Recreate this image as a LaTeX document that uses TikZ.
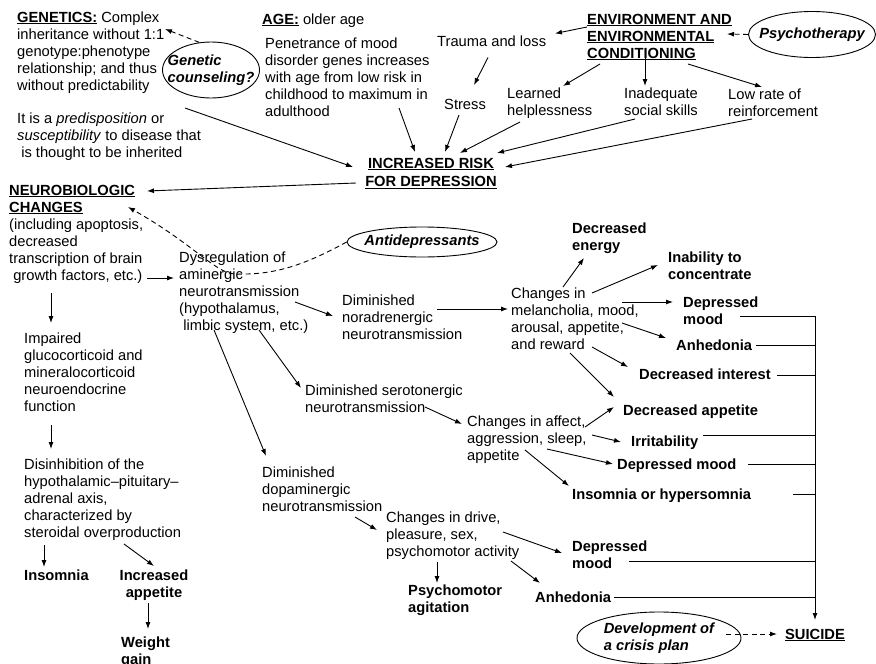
\documentclass[tikz,border=0pt]{standalone}
\usepackage{fontspec}
\setmainfont{Liberation Sans}
\usepackage{tikz}
\usetikzlibrary{arrows.meta, shapes.geometric, calc}
\newcommand{\figfont}{\fontsize{14.7}{17}\selectfont}
\newsavebox{\ulbox}
\newcommand{\ulb}[1]{\sbox{\ulbox}{\textbf{#1}}\rlap{\rule[-2.4pt]{\wd\ulbox}{1.3pt}}\usebox{\ulbox}}
% top-aligned line stacks, so that base = first line
\newcommand{\lft}[1]{\begin{tabular}[t]{@{}l@{}}#1\end{tabular}}
\newcommand{\ctr}[1]{\begin{tabular}[t]{@{}c@{}}#1\end{tabular}}
\tikzset{
  arr/.style={-{Latex[length=7pt,width=5pt]}, line width=0.9pt},
  darr/.style={arr, dash pattern=on 5pt off 3.5pt},
  txt/.style={anchor=base west, inner sep=0pt},
  bld/.style={txt, font=\figfont\bfseries},
  oval/.style={ellipse, draw, line width=0.9pt, inner sep=0pt},
  ovaltxt/.style={align=left, inner sep=0pt, font=\figfont\bfseries\itshape}
}

\begin{document}
\begin{tikzpicture}[x=1pt, y=-1pt, font=\figfont]
\useasboundingbox (0,0) rectangle (876,664);
% ===== top row: what raises the risk =====
\node[txt] (gen) at (17,22) {\lft{\ulb{GENETICS:} Complex\\inheritance without 1:1\\genotype:phenotype\\relationship; and thus\\without predictability}};
\node[txt] (pred) at (17,123) {\lft{It is a \textit{predisposition} or\\\textit{susceptibility} to disease that\\\ is thought to be inherited}};
\node[oval, minimum width=97pt, minimum height=56pt] (counsel) at (211,70) {};
\node[ovaltxt] at (counsel.center) {Genetic\\counseling?};
\node[txt] (age) at (262,24) {\ulb{AGE:} older age};
\node[txt] (pen) at (265,48) {\lft{Penetrance of mood\\disorder genes increases\\with age from low risk in\\childhood to maximum in\\adulthood}};
\node[txt] (trauma) at (437,46.5) {Trauma and loss};
\node[txt] (stress) at (444,109) {Stress};
\node[txt] (env) at (587,24) {\lft{\ulb{ENVIRONMENT AND}\\\ulb{ENVIRONMENTAL}\\\ulb{CONDITIONING}}};
\node[oval, minimum width=127pt, minimum height=46pt] (psycho) at (812,34.5) {};
\node[ovaltxt] at (psycho.center) {Psychotherapy};
\node[txt] (learned) at (507,98) {\lft{Learned\\helplessness}};
\node[txt] (inad) at (624,98) {\lft{Inadequate\\social skills}};
\node[txt] (lowrate) at (728,99) {\lft{Low rate of\\reinforcement}};
\node[anchor=base, inner sep=0pt] (risk) at (431,168) {\ctr{\ulb{INCREASED RISK}\\[1.5pt]\ulb{FOR DEPRESSION}}};
% ===== middle: neurobiology and the three transmitter systems =====
\node[txt] (neuro) at (9,195) {\lft{\ulb{NEUROBIOLOGIC}\\\ulb{CHANGES}\\(including apoptosis,\\decreased\\transcription of brain\\\ growth factors, etc.)}};
\node[txt] (dysreg) at (179,262) {\lft{Dysregulation of\\aminergic\\neurotransmission\\(hypothalamus,\\\ limbic system, etc.)}};
\node[oval, minimum width=150pt, minimum height=30pt] (antidep) at (422,242) {};
\node[ovaltxt] at (antidep.center) {Antidepressants};
\node[txt] (norad) at (342,305) {\lft{Diminished\\noradrenergic\\neurotransmission}};
\node[txt] (sero) at (305,395) {\lft{Diminished serotonergic\\neurotransmission}};
\node[txt] (dopa) at (262,477) {\lft{Diminished\\dopaminergic\\neurotransmission}};
\node[txt] (chgA) at (511,298) {\lft{Changes in\\melancholia, mood,\\arousal, appetite,\\and reward}};
\node[txt] (chgB) at (467,426) {\lft{Changes in affect,\\aggression, sleep,\\appetite}};
\node[txt] (chgC) at (386,522) {\lft{Changes in drive,\\pleasure, sex,\\psychomotor activity}};
% ===== symptoms =====
\node[bld] (energy) at (572,233) {\lft{Decreased\\energy}};
\node[bld] (inab) at (668,262) {\lft{Inability to\\concentrate}};
\node[bld] (dmoodA) at (683,307) {\lft{Depressed\\mood}};
\node[bld] (anhedA) at (676,350) {Anhedonia};
\node[bld] (dint) at (639,379) {Decreased interest};
\node[bld] (dapp) at (623,415) {Decreased appetite};
\node[bld] (irrit) at (631,446) {Irritability};
\node[bld] (dmoodB) at (617,469) {Depressed mood};
\node[bld] (insomB) at (572,499) {Insomnia or hypersomnia};
\node[bld] (dmoodC) at (572,551) {\lft{Depressed\\mood}};
\node[bld] (anhedB) at (535,602) {Anhedonia};
\node[bld] (agit) at (408,595) {\lft{Psychomotor\\agitation}};
% ===== left column: HPA axis =====
\node[txt] (impaired) at (24,343) {\lft{Impaired\\glucocorticoid and\\mineralocorticoid\\neuroendocrine\\function}};
\node[txt] (disinh) at (24,469) {\lft{Disinhibition of the\\hypothalamic--pituitary--\\adrenal axis,\\characterized by\\steroidal overproduction}};
\node[bld] (insomA) at (24,580) {Insomnia};
\node[bld, anchor=base] (incapp) at (154,580) {\ctr{Increased\\appetite}};
\node[bld] (weight) at (121,647) {\lft{Weight\\gain}};
% ===== bottom right: outcome =====
\node[anchor=base, inner sep=0pt] (suicide) at (815,639) {\ulb{SUICIDE}};
\node[oval, minimum width=164pt, minimum height=52pt] (crisis) at (659,638) {};
\node[ovaltxt] at (crisis.center) {Development of\\a crisis plan};
% solid arrows: start node/offset/end node/offset
\foreach \p/\px/\py/\q/\qx/\qy in {
  pred.base west/168/-15/risk.base/-78/-1,
  pen.base west/134/60/risk.base/-16/-16,
  stress.base west/15/6/risk.base/14/-16,
  learned.base west/13/24/risk.base/29/-15,
  inad.base west/11/21/risk.base/66/-15,
  lowrate.base west/24/20/risk.base/74/-1,
  trauma.base west/51/11/stress.base west/30/-24,
  env.base west/0/3/trauma.base west/118/-13,
  env.base west/13/40/learned.base west/56/-12,
  env.base west/58/33/inad.base west/21/-12,
  env.base west/101/40/lowrate.base west/34/-12,
  risk.base/-75/15/neuro.base west/138/-4,
  neuro.base west/138/83/dysreg.base west/-5/16,
  dysreg.base west/116/40/norad.base west/-9/11,
  norad.base west/95/4/chgA.base west/-3/11,
  dysreg.base west/80/68/sero.base west/-4/-7,
  dysreg.base west/35/68/dopa.base west/4/-21,
  sero.base west/120/12/chgB.base west/-5/-2,
  dopa.base west/93/40/chgC.base west/-9/8,
  chgA.base west/52/-11/energy.base west/12/25,
  chgA.base west/81/-5/inab.base west/-10/3,
  chgA.base west/111/4/dmoodA.base west/-10/-5,
  chgA.base west/111/25/anhedA.base west/-10/-12,
  chgA.base west/81/49/dint.base west/-11/-12,
  chgA.base west/59/55/dapp.base west/-9/-18,
  chgB.base west/118/1/dapp.base west/-9/-8,
  chgB.base west/125/9/irrit.base west/-10/-4,
  chgB.base west/80/23/dmoodB.base west/-4/-5,
  chgB.base west/58/24/insomB.base west/-3/-13,
  chgC.base west/117/10/dmoodC.base west/-10/2,
  chgC.base west/125/39/anhedB.base west/5/-19,
  chgC.base west/51/40/agit.base west/29/-12,
  neuro.base west/42/98/impaired.base west/27/-20,
  impaired.base west/27/82/disinh.base west/27/-20,
  disinh.base west/20/76/insomA.base west/20/-13,
  disinh.base west/100/75/incapp.base/0/-14,
  incapp.base/-6/23/weight.base west/27/-18}
  \draw[arr] ($(\p)+(\px,\py)$) -- ($(\q)+(\qx,\qy)$);
% dashed arrows from the treatments
\draw[darr] (counsel.113) -- ($(gen.base west)+(148,7)$);
\draw[darr] (psycho.west) -- ($(env.base west)+(140,10)$);
\draw[darr] (antidep.west) .. controls +(-47,26) and +(35,1) .. ($(dysreg.base west)+(56,12)$)
  .. controls +(-20,-1) and +(67,38) .. ($(neuro.base west)+(119,12)$);
\draw[darr] ($(crisis.center)+(67,-4)$) -- ($(suicide.base)+(-38,-5)$);
% symptoms gathered on one line down to suicide
\coordinate (spine) at (815,316);
\foreach \nm/\dx/\dy in {dmoodA/57/9, anhedA/80/-5, dint/138/-4, irrit/72/-11, dmoodB/131/-5, insomB/221/-5, dmoodC/57/10, anhedB/79/-5}
  \draw[line width=0.9pt] ($(\nm.base west)+(\dx,\dy)$) coordinate (h) -- (h -| spine);
\draw[arr] (spine) -- ($(suicide.base)+(0,-19)$);
\end{tikzpicture}
\end{document}
